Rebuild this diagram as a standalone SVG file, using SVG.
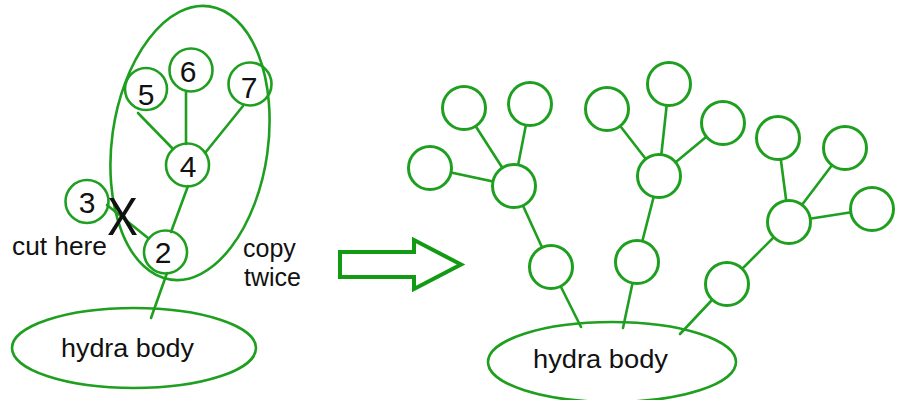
<svg xmlns="http://www.w3.org/2000/svg" width="903" height="400" viewBox="0 0 903 400">
  <style>
    .edge { stroke: #1f9f1f; stroke-width: 2.6; fill: none; stroke-linecap: round; }
    .node { stroke: #1f9f1f; stroke-width: 2.6; fill: none; }
    .rnode { stroke: #1f9f1f; stroke-width: 3; fill: #ffffff; }
    .body { stroke: #1f9f1f; stroke-width: 2.6; fill: none; }
    .num { font-family: "Liberation Sans", Arial, sans-serif; font-size: 30px; fill: #111111; text-anchor: middle; }
    .lbl { font-family: "Liberation Sans", Arial, sans-serif; font-size: 25px; fill: #111111; }
  </style>
  <rect width="903" height="400" fill="#ffffff"/>

  <!-- connectors -->
  <g id="connectors">
    <!-- original hydra -->
    <line class="edge" x1="138" y1="113" x2="173" y2="149"/>
    <line class="edge" x1="186" y1="92" x2="186" y2="144"/>
    <line class="edge" x1="243" y1="106" x2="205" y2="153"/>
    <line class="edge" x1="188" y1="186" x2="171" y2="232"/>
    <line class="edge" x1="107" y1="205" x2="148" y2="238"/>
    <line class="edge" x1="167" y1="273" x2="151" y2="318"/>
    <!-- grown hydra: branch 1 -->
    <line class="edge" x1="514" y1="186" x2="464" y2="108"/>
    <line class="edge" x1="514" y1="186" x2="530" y2="104"/>
    <line class="edge" x1="514" y1="186" x2="430" y2="168"/>
    <line class="edge" x1="514" y1="186" x2="551" y2="267"/>
    <line class="edge" x1="551" y1="267" x2="581" y2="327"/>
    <!-- branch 2 -->
    <line class="edge" x1="659" y1="176" x2="607" y2="109"/>
    <line class="edge" x1="659" y1="176" x2="669" y2="84"/>
    <line class="edge" x1="659" y1="176" x2="723" y2="123"/>
    <line class="edge" x1="659" y1="176" x2="637" y2="262"/>
    <line class="edge" x1="637" y1="262" x2="623" y2="328"/>
    <!-- branch 3 -->
    <line class="edge" x1="789" y1="222" x2="778" y2="138"/>
    <line class="edge" x1="789" y1="222" x2="845" y2="148"/>
    <line class="edge" x1="789" y1="222" x2="872" y2="209"/>
    <line class="edge" x1="789" y1="222" x2="727" y2="284"/>
    <line class="edge" x1="727" y1="284" x2="680" y2="334"/>
  </g>

  <!-- original hydra nodes -->
  <g id="body-left">
    <ellipse class="body" cx="134" cy="348" rx="122" ry="40"/>
    <text class="lbl" x="127.5" y="357" font-size="26" text-anchor="middle" textLength="133" lengthAdjust="spacingAndGlyphs">hydra body</text>
  </g>
  <g id="n2"><circle class="node" cx="165.5" cy="252" r="21.5"/><text class="num" x="163" y="263">2</text></g>
  <g id="n3"><circle class="node" cx="87" cy="201.5" r="21.5"/><text class="num" x="87" y="213">3</text></g>
  <g id="n4"><circle class="node" cx="187.5" cy="165" r="21.5"/><text class="num" x="188" y="177">4</text></g>
  <g id="n5"><circle class="node" cx="146" cy="89" r="21"/><text class="num" x="146" y="105">5</text></g>
  <g id="n6"><circle class="node" cx="191" cy="70" r="21.5"/><text class="num" x="188" y="82">6</text></g>
  <g id="n7"><circle class="node" cx="250" cy="84" r="21.5"/><text class="num" x="249" y="98">7</text></g>

  <!-- copy region -->
  <g id="copy-region">
    <ellipse class="body" cx="190" cy="143" rx="78" ry="138" transform="rotate(8 190 143)"/>
  </g>

  <!-- labels -->
  <g id="labels">
    <text class="lbl" x="12" y="255" font-size="25" textLength="95" lengthAdjust="spacingAndGlyphs">cut here</text>
    <text class="lbl" x="243" y="257">copy</text>
    <text class="lbl" x="244" y="286">twice</text>
    <text x="122.5" y="235" font-family="Liberation Sans, Arial, sans-serif" font-size="54" fill="#111111" text-anchor="middle" textLength="31" lengthAdjust="spacingAndGlyphs">X</text>
  </g>

  <!-- arrow -->
  <g id="arrow">
    <polygon points="340,252 414,252 414,240 461,264.5 414,289 414,277 340,277" fill="none" stroke="#129a12" stroke-width="4" stroke-linejoin="miter"/>
  </g>

  <!-- grown hydra nodes -->
  <g id="body-right">
    <ellipse class="body" cx="612" cy="362" rx="124" ry="40"/>
    <text class="lbl" x="600.5" y="368" font-size="26" text-anchor="middle" textLength="135" lengthAdjust="spacingAndGlyphs">hydra body</text>
  </g>
  <g id="r-hub1"><circle class="rnode" cx="514" cy="186" r="21.5"/></g>
  <g id="r-a1"><circle class="rnode" cx="464" cy="108" r="21.5"/></g>
  <g id="r-b1"><circle class="rnode" cx="530" cy="104" r="21.5"/></g>
  <g id="r-c1"><circle class="rnode" cx="430" cy="168" r="21.5"/></g>
  <g id="r-stem1"><circle class="rnode" cx="551" cy="267" r="21.5"/></g>
  <g id="r-hub2"><circle class="rnode" cx="659" cy="176" r="21.5"/></g>
  <g id="r-a2"><circle class="rnode" cx="607" cy="109" r="21.5"/></g>
  <g id="r-b2"><circle class="rnode" cx="669" cy="84" r="21.5"/></g>
  <g id="r-c2"><circle class="rnode" cx="723" cy="123" r="21.5"/></g>
  <g id="r-stem2"><circle class="rnode" cx="637" cy="262" r="21.5"/></g>
  <g id="r-hub3"><circle class="rnode" cx="789" cy="222" r="21.5"/></g>
  <g id="r-a3"><circle class="rnode" cx="778" cy="138" r="21.5"/></g>
  <g id="r-b3"><circle class="rnode" cx="845" cy="148" r="21.5"/></g>
  <g id="r-c3"><circle class="rnode" cx="872" cy="209" r="21.5"/></g>
  <g id="r-stem3"><circle class="rnode" cx="727" cy="284" r="21.5"/></g>
</svg>
